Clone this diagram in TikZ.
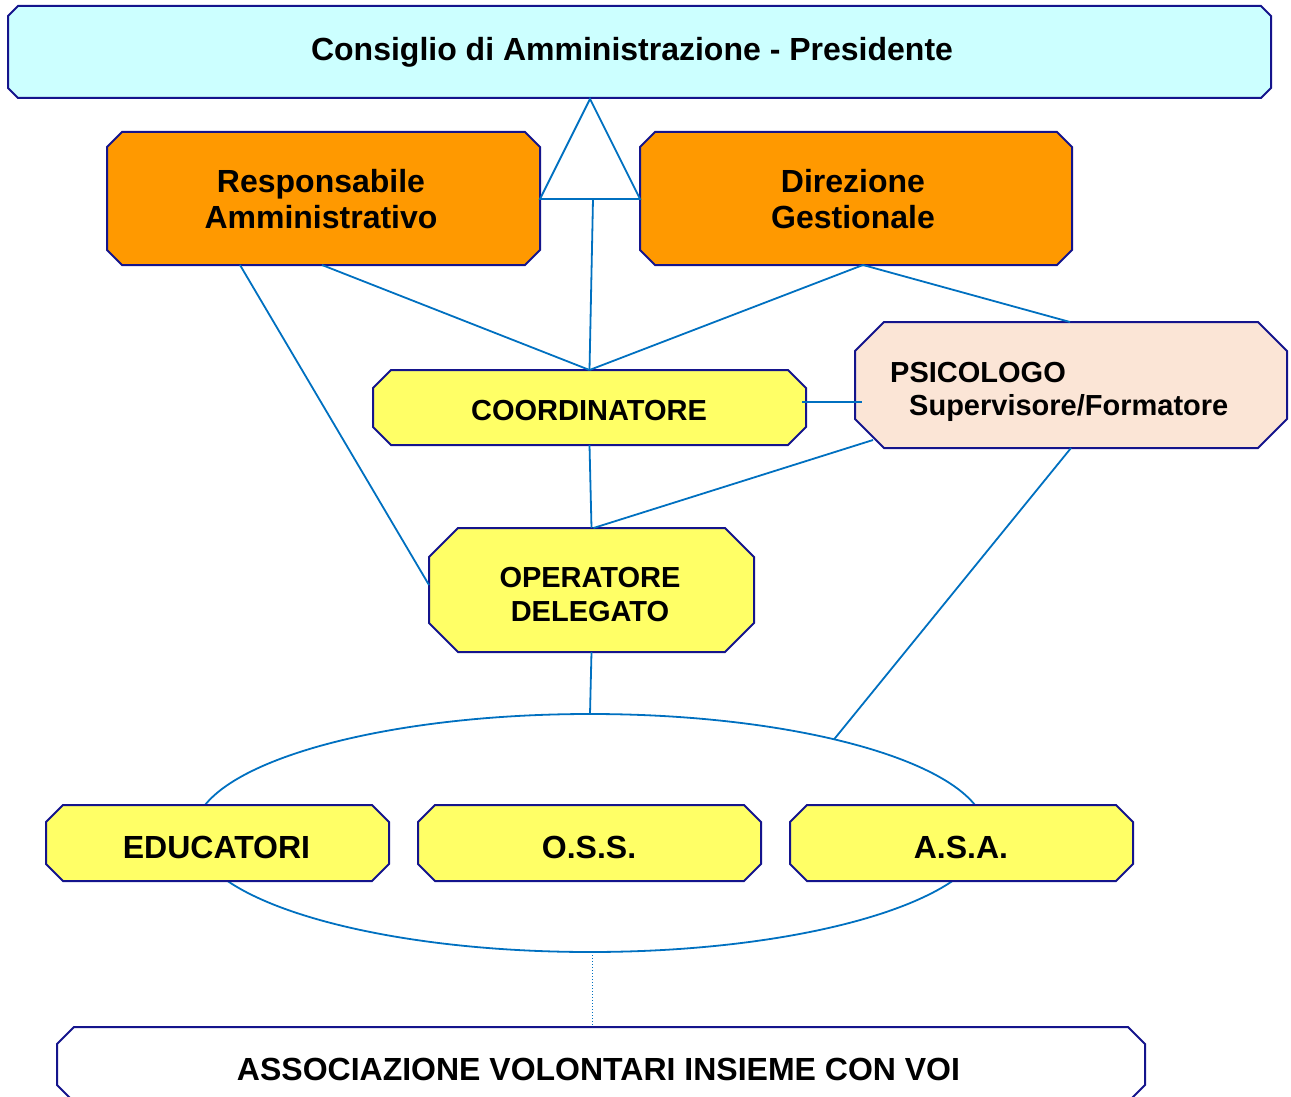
\documentclass[tikz,border=0pt]{standalone}
\usepackage{fontspec}
\setmainfont{Liberation Sans}
\usetikzlibrary{shapes.geometric}
\definecolor{navyb}{RGB}{20,20,140}
\definecolor{lineb}{RGB}{0,112,192}
\definecolor{cyanf}{RGB}{204,255,255}
\definecolor{orangef}{RGB}{255,153,0}
\definecolor{yellowf}{RGB}{255,255,102}
\definecolor{peachf}{RGB}{251,229,214}
\tikzset{
  boxedge/.style={draw=navyb, line width=2pt},
  frame/.style={rectangle, draw=none, inner sep=0pt, outer sep=0pt},
  conn/.style={draw=lineb, line width=1.8pt},
  bigtxt/.style={inner sep=0pt, anchor=base, font=\bfseries\fontsize{32}{36}\selectfont},
  smtxt/.style={inner sep=0pt, anchor=base, font=\bfseries\fontsize{29}{33}\selectfont},
}
\newcommand{\chbox}[7]{%
  \filldraw[boxedge, fill=#7] ({#2+#6},#3) -- ({#4-#6},#3) -- (#4,{#3+#6}) -- (#4,{#5-#6}) -- ({#4-#6},#5) -- ({#2+#6},#5) -- (#2,{#5-#6}) -- (#2,{#3+#6}) -- cycle;
  \node[frame, minimum width={#4-#2}, minimum height={#5-#3}] (#1) at ({(#2+#4)/2},{(#3+#5)/2}) {};
}
\begin{document}
\begin{tikzpicture}[x=1pt, y=-1pt]
\useasboundingbox (0,0) rectangle (1291,1097);
\clip (0,0) rectangle (1291,1097);

% boxes
\chbox{title}{8}{6}{1271}{98}{10}{cyanf}
\chbox{resp}{107}{132}{540}{265}{15}{orangef}
\chbox{dir}{640}{132}{1072}{265}{15}{orangef}
\chbox{psico}{855}{322}{1287}{448}{29}{peachf}
\chbox{coord}{373}{370}{806}{445}{18}{yellowf}
\chbox{oper}{429}{528}{754}{652}{29}{yellowf}

% triangle
\coordinate (apex) at (590,99);
\coordinate (bl) at (540,199);
\coordinate (br) at (640,199);
\coordinate (bm) at (593,199);
\draw[conn, line join=miter] (apex) -- (br) -- (bl) -- cycle;

% group ellipse
\node[ellipse, draw=lineb, line width=1.8pt, minimum width=792, minimum height=238, inner sep=0pt, outer sep=0pt] (grp) at (590,833) {};

% connectors
\coordinate (psiL) at (862,402);
\draw[conn] (bm) -- (coord.north);
\draw[conn] ([xshift=215pt]resp.south west) -- (coord.north);
\draw[conn] ([xshift=223pt]dir.south west) -- (coord.north);
\draw[conn] ([xshift=223pt]dir.south west) -- ([xshift=215pt]psico.north west);
\draw[conn] ([xshift=133pt]resp.south west) -- ([yshift=5pt]oper.west);
\draw[conn] ([xshift=-4pt,yshift=5.5pt]coord.east) -- (psiL);
\draw[conn] (coord.south) -- (oper.north);
\draw[conn] ([xshift=18pt,yshift=8pt]psico.south west) -- ([xshift=2pt]oper.north);
\draw[conn] (oper.south) -- (grp.north);
\draw[conn] ([xshift=216pt]psico.south west) -- (grp.21);

% bottom boxes
\chbox{edu}{46}{805}{389}{881}{17}{yellowf}
\chbox{oss}{418}{805}{761}{881}{17}{yellowf}
\chbox{asa}{790}{805}{1133}{881}{17}{yellowf}
\chbox{assoc}{57}{1027}{1145}{1102}{17}{white}
\draw[draw=lineb, line width=1pt, dotted] ([xshift=2pt]grp.south) -- ([xshift=2pt]grp.south |- assoc.north);

% texts
\node[bigtxt] (title-t) at (632,61) {Consiglio di Amministrazione - Presidente};
\node[bigtxt] (resp-t1) at (321,193) {Responsabile};
\node[bigtxt] (resp-t2) at (321,228) {Amministrativo};
\node[bigtxt] (dir-t1) at (853,193) {Direzione};
\node[bigtxt] (dir-t2) at (853,228) {Gestionale};
\node[smtxt, anchor=base west] (psico-t1) at (890,382) {PSICOLOGO};
\node[smtxt, anchor=base west] (psico-t2) at (909,415) {Supervisore/Formatore};
\node[smtxt] (coord-t) at (589,420) {COORDINATORE};
\node[smtxt] (oper-t1) at (590,587) {OPERATORE};
\node[smtxt] (oper-t2) at (590,621) {DELEGATO};
\node[bigtxt] (edu-t) at (216.5,858) {EDUCATORI};
\node[bigtxt] (oss-t) at (589,858) {O.S.S.};
\node[bigtxt] (asa-t) at (961,858) {A.S.A.};
\node[bigtxt] (assoc-t) at (598.5,1080) {ASSOCIAZIONE VOLONTARI INSIEME CON VOI};
\end{tikzpicture}
\end{document}
